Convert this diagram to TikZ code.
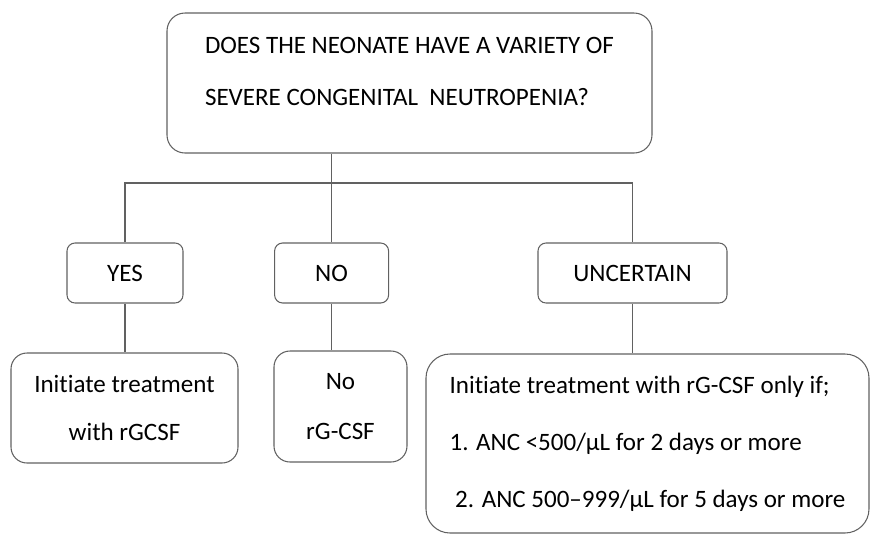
\documentclass[tikz,border=0pt]{standalone}
\usepackage{fontspec}
\setmainfont{Carlito}[Ligatures={NoCommon,NoContextual}]
\usetikzlibrary{positioning}
\definecolor{boxline}{gray}{0.38}

\begin{document}
\begin{tikzpicture}[
    qbox/.style={rectangle, draw=boxline, line width=0.75pt, align=left, inner sep=0pt,
                 font=\fontsize{17.8}{22}\selectfont},
    ansbox/.style={qbox, align=center, rounded corners=0.2cm, minimum height=1.5cm},
    resbox/.style={qbox, align=center, rounded corners=0.4cm},
    link/.style={draw=boxline, line width=0.75pt}
]
    \useasboundingbox (0,0) rectangle (21.75,-13.35);

    % question
    \node[qbox, rounded corners=0.45cm, minimum width=12.125cm, minimum height=3.5cm] (q) at (10.2375,-2.075)
        {DOES THE NEONATE HAVE A VARIETY OF\\[15pt]SEVERE CONGENITAL\ \ NEUTROPENIA?\rule[-0.6cm]{0pt}{0pt}};

    % answers
    \node[ansbox, minimum width=2.9cm] (yes) at (3.125,-6.825) {YES};
    \node[ansbox, minimum width=2.85cm] (no) at (8.29,-6.825) {NO};
    \node[ansbox, minimum width=4.725cm] (unc) at (15.8125,-6.825) {UNCERTAIN};

    % what to do
    \node[resbox, minimum width=5.675cm, minimum height=2.75cm] (yesres) at (3.1125,-10.2)
        {Initiate treatment\\[12pt]with rGCSF};
    \node[resbox, minimum width=3.325cm, minimum height=2.775cm] (nores) at (8.5125,-10.1625)
        {No\\[14pt]rG-CSF};
    \node[resbox, align=left, rounded corners=0.6cm, minimum width=11.075cm, minimum height=4.475cm] (uncres) at (16.1875,-11.0875)
        {Initiate treatment with rG-CSF only if;\\[18.5pt]1. ANC <500/µL for 2 days or more\\[18.5pt]\ 2. ANC 500--999/µL for 5 days or more};

    \coordinate (split) at (8.29,-4.575);

    \draw[link] (q.south -| split) -- (split);
    \draw[link] (yes.north) |- (unc.north |- split) -- (unc.north);
    \draw[link] (no.north) -- (split);
    \draw[link] (yes.south) -- (yes.south |- yesres.north);
    \draw[link] (no.south) -- (no.south |- nores.north);
    \draw[link] (unc.south) -- (unc.south |- uncres.north);
\end{tikzpicture}
\end{document}
